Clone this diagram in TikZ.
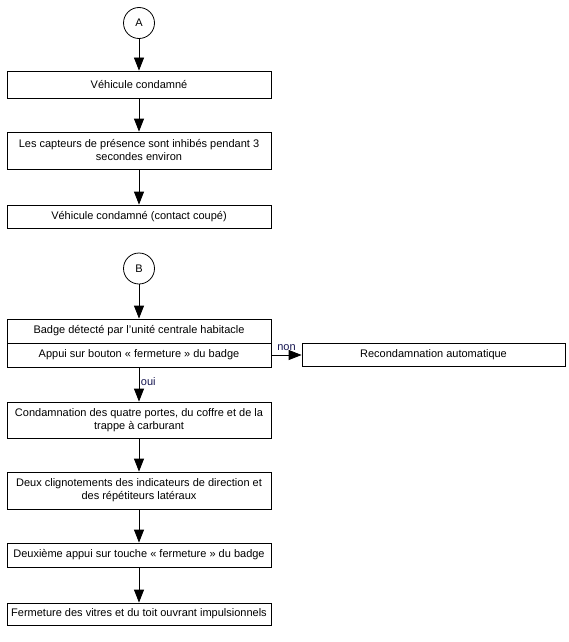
\documentclass[tikz,border=0pt]{standalone}
\usepackage{fontspec}
\setmainfont{Liberation Sans}
\usetikzlibrary{arrows.meta}
\definecolor{lblcol}{RGB}{20,20,80}
\begin{document}
\begin{tikzpicture}[x=1pt,y=-1pt,
  every node/.style={font=\fontsize{11}{13}\selectfont},
  box/.style={draw,line width=0.8pt,minimum width=264pt,inner sep=0pt,align=center},
  conn/.style={circle,draw,line width=0.8pt,minimum size=31pt,inner sep=0pt},
  arr/.style={line width=0.8pt,-{Triangle[length=13pt,width=10pt]}},
  lbl/.style={text=lblcol,inner sep=1.5pt}]
\useasboundingbox (0,0) rectangle (569,642);
\node[conn] (A) at (139,23) {A};
\node[box,minimum height=27pt] (b1) at (139,84.5) {Véhicule condamné};
\node[box,minimum height=37pt] (b2) at (139,150.5) {Les capteurs de présence sont inhibés pendant 3\\secondes environ};
\node[box,minimum height=23pt] (b3) at (139,216.5) {Véhicule condamné (contact coupé)};
\node[conn] (B) at (139,268.5) {B};
\node[box,minimum height=24pt] (b4a) at (139,331) {Badge détecté par l'unité centrale habitacle};
\node[box,minimum height=24pt] (b4b) at (139,355) {Appui sur bouton « fermeture » du badge};
\node[box,minimum width=263pt,minimum height=23pt] (r) at (433.5,354.5) {Recondamnation automatique};
\node[box,minimum height=36pt] (b5) at (139,420) {Condamnation des quatre portes, du coffre et de la\\trappe à carburant};
\node[box,minimum height=37pt] (b6) at (139,490.5) {Deux clignotements des indicateurs de direction et\\des répétiteurs latéraux};
\node[box,minimum height=24pt] (b7) at (139,555) {Deuxième appui sur touche « fermeture » du badge};
\node[box,minimum height=22pt] (b8) at (139,614) {Fermeture des vitres et du toit ouvrant impulsionnels};
\draw[arr] (A) -- (b1);
\draw[arr] (b1) -- (b2);
\draw[arr] (b2) -- (b3);
\draw[arr] (B) -- (b4a);
\draw[arr] (b4b.east) -- node[lbl,above,inner sep=3.5pt] {non} (r.west |- b4b.east);
\draw[arr] (b4b) -- node[lbl,right,pos=0.42] {oui} (b5);
\draw[arr] (b5) -- (b6);
\draw[arr] (b6) -- (b7);
\draw[arr] (b7) -- (b8);
\end{tikzpicture}
\end{document}
